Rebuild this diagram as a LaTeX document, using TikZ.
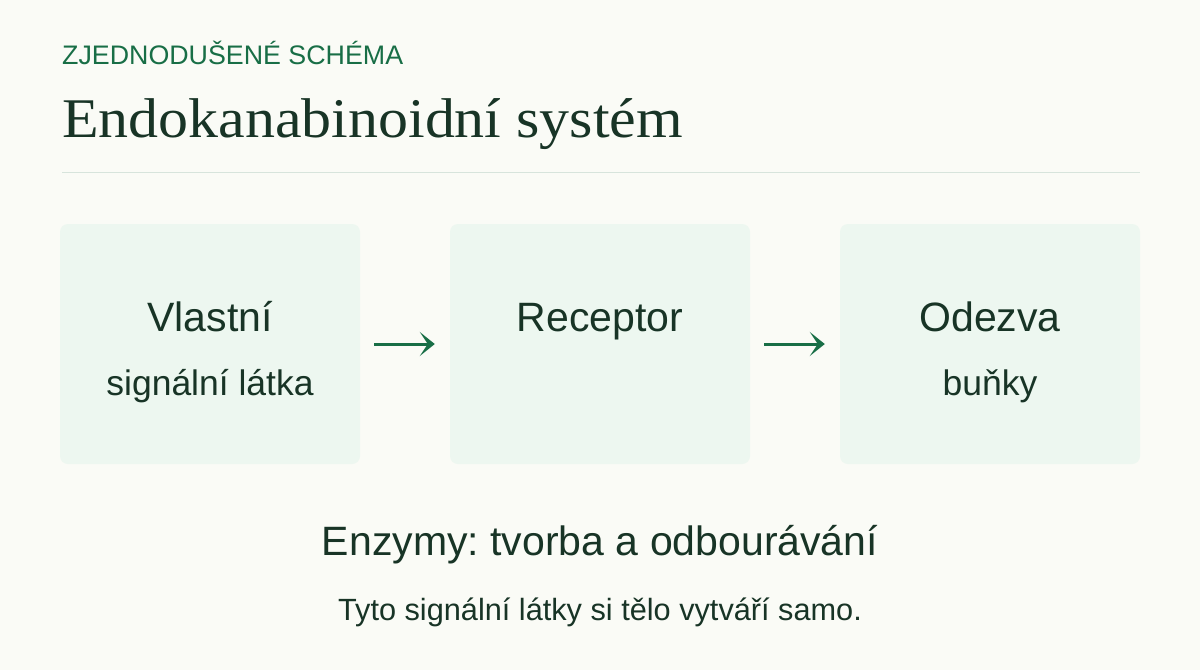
\documentclass[tikz,border=0pt]{standalone}
\usepackage{fontspec}
\setmainfont{Liberation Sans}
\newfontfamily\titlefont{Liberation Serif}
\usetikzlibrary{arrows.meta}
\frenchspacing
\definecolor{bgc}{RGB}{250,251,246}
\definecolor{boxc}{RGB}{237,247,240}
\definecolor{inkc}{RGB}{24,52,38}
\definecolor{greenc}{RGB}{24,110,70}
\definecolor{rulec}{RGB}{215,228,220}
\tikzset{
  stepbox/.style={fill=boxc, draw=none, rounded corners=8pt, minimum width=300pt, minimum height=240pt, inner sep=0pt},
  headtxt/.style={anchor=base, text=inkc, inner sep=0pt, font=\fontsize{41}{49}\selectfont},
  subtxt/.style={anchor=base, text=inkc, inner sep=0pt, font=\fontsize{35.5}{42}\selectfont},
  flowarrow/.style={draw=greenc, line width=3pt, -{Stealth[length=15pt,width=24pt,inset=8pt]}, shorten <=14pt, shorten >=15pt},
}
\begin{document}
\begin{tikzpicture}[x=1pt,y=-1pt]
\useasboundingbox[fill=bgc] (0,0) rectangle (1200,670);
\node[anchor=base west, inner sep=0pt, text=greenc, font=\fontsize{26.8}{32}\selectfont] (kicker) at (62,64) {ZJEDNODUŠENÉ SCHÉMA};
\node[anchor=base west, inner sep=0pt, text=inkc, font=\titlefont\fontsize{56}{66}\selectfont] (title) at (62,137) {\scalebox{1.07}[1]{Endokanabinoidní systém}};
\coordinate (ruleL) at (62,172.5);
\coordinate (ruleR) at (1140,172.5);
\draw[rulec, line width=1.5pt] (ruleL) -- (ruleR);
\node[stepbox] (b1) at (210,344) {};
\node[stepbox] (b2) at (600,344) {};
\node[stepbox] (b3) at (990,344) {};
\node[headtxt] (t1) at (210,331) {Vlastní};
\node[subtxt] (s1) at (210,395) {signální látka};
\node[headtxt] (t2) at (600,331) {Receptor};
\node[headtxt] (t3) at (990,331) {Odezva};
\node[subtxt] (s3) at (990,395) {buňky};
\draw[flowarrow] (b1) -- (b2);
\draw[flowarrow] (b2) -- (b3);
\node[anchor=base, inner sep=0pt, text=inkc, font=\fontsize{41}{49}\selectfont] (enz) at (600,555) {Enzymy: tvorba a odbourávání};
\node[anchor=base, inner sep=0pt, text=inkc, font=\fontsize{30.7}{37}\selectfont] (note) at (600,620) {Tyto signální látky si tělo vytváří samo.};
\end{tikzpicture}
\end{document}
